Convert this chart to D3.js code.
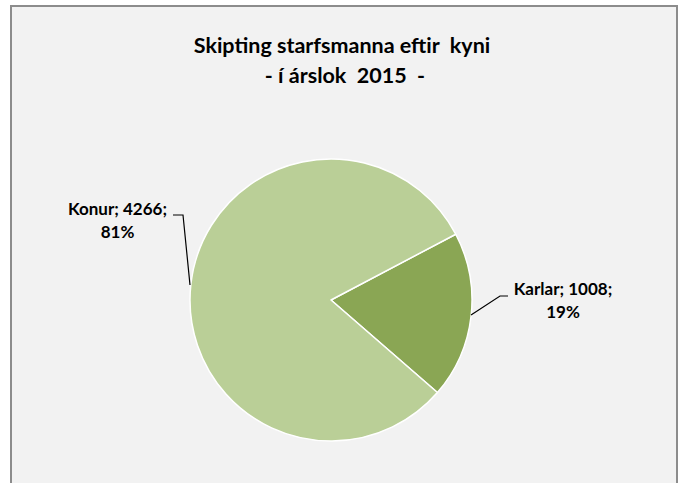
<!DOCTYPE html>
<html>
<head>
<meta charset="utf-8">
<script src="https://cdn.jsdelivr.net/npm/d3@7"></script>
<style>
  html, body { margin: 0; padding: 0; background: #ffffff; }
  svg text { font-family: Lato, "Open Sans", sans-serif; font-weight: bold; fill: #000; white-space: pre; }
</style>
</head>
<body>
<svg id="chart" width="683" height="483"></svg>
<script>
// Starfsmenn eftir kyni í árslok 2015
const categories = ["Karlar", "Konur"];
const values = [1008, 4266];
const percentLabels = ["19%", "81%"];
const colors = ["#8aa654", "#bacf97"];
const titleLines = ["Skipting starfsmanna eftir  kyni", "- í árslok  2015  -"];

const svg = d3.select("#chart");

// chart area frame
svg.append("rect")
  .attr("x", 11).attr("y", 6)
  .attr("width", 666).attr("height", 490)
  .attr("fill", "#f2f2f2")
  .attr("stroke", "#8c8c8c")
  .attr("stroke-width", 2);

// title
svg.append("g").selectAll("text")
  .data(titleLines)
  .join("text")
  .attr("x", (d, i) => i === 0 ? 342 : 345)
  .attr("y", (d, i) => 53 + i * 30)
  .attr("text-anchor", "middle")
  .attr("font-size", 21.5)
  .text(d => d);

// pie
const cx = 331, cy = 300, r = 141;
const startDeg = 62.2;
const pie = d3.pie()
  .sort(null)
  .startAngle(startDeg * Math.PI / 180)
  .endAngle((startDeg + 360) * Math.PI / 180)
  .value(d => d);
const arcs = pie(values);
const arc = d3.arc().innerRadius(0).outerRadius(r);

const g = svg.append("g").attr("transform", `translate(${cx},${cy})`);
g.selectAll("path")
  .data(arcs)
  .join("path")
  .attr("d", arc)
  .attr("fill", (d, i) => colors[i])
  .attr("stroke", "#ffffff")
  .attr("stroke-width", 1.5)
  .attr("stroke-linejoin", "round");

// data labels with leader lines
const labelPos = [
  { x: 563, y: 295, line: [[471, 315], [500, 296], [508, 296]] },
  { x: 117.5, y: 215, line: [[190, 285], [183, 215], [173, 215]] }
];

const lg = svg.append("g");
lg.selectAll("path")
  .data(labelPos)
  .join("path")
  .attr("d", d => d3.line()(d.line))
  .attr("fill", "none")
  .attr("stroke", "#000")
  .attr("stroke-width", 1.2);

const labels = lg.selectAll("text")
  .data(arcs)
  .join("text")
  .attr("text-anchor", "middle")
  .attr("font-size", 17);
labels.append("tspan")
  .attr("x", (d, i) => labelPos[i].x)
  .attr("y", (d, i) => labelPos[i].y)
  .text((d, i) => `${categories[i]}; ${d.data};`);
labels.append("tspan")
  .attr("x", (d, i) => labelPos[i].x)
  .attr("y", (d, i) => labelPos[i].y + 23)
  .text((d, i) => percentLabels[i]);
</script>
</body>
</html>
